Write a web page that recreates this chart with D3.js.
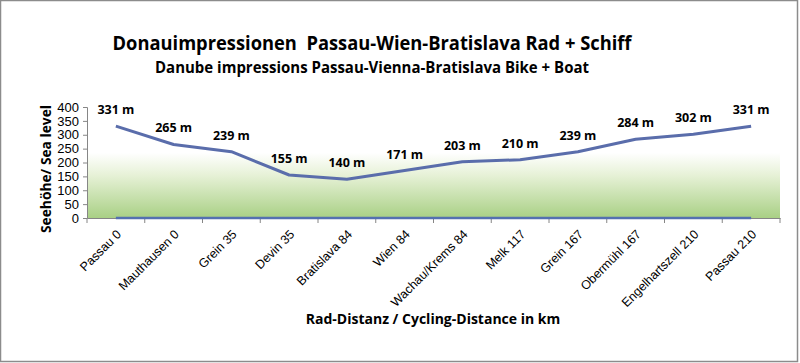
<!DOCTYPE html>
<html>
<head>
<meta charset="utf-8">
<script src="https://cdn.jsdelivr.net/npm/d3@7"></script>
<style>
  html, body { margin: 0; padding: 0; background: #fff; }
  svg { display: block; font-family: "Open Sans", "DejaVu Sans", sans-serif; }
</style>
</head>
<body>
<svg id="chart" width="800" height="363"></svg>
<script>
const stations = ["Passau 0", "Mauthausen 0", "Grein 35", "Devin 35", "Bratislava 84", "Wien 84",
  "Wachau/Krems 84", "Melk 117", "Grein 167", "Obermühl 167", "Engelhartszell 210", "Passau 210"];
const elevation = [331, 265, 239, 155, 140, 171, 203, 210, 239, 284, 302, 331];
const baseline = [0, 0, 0, 0, 0, 0, 0, 0, 0, 0, 0, 0];
const yTicks = [0, 50, 100, 150, 200, 250, 300, 350, 400];
const fillTop = 235; // where the green plot fill fades to white

const svg = d3.select("#chart");
const margin = { left: 87, right: 20, top: 107, bottom: 145 };
const W = 800, H = 363;
const x0 = margin.left, x1 = W - margin.right;
const yB = H - margin.bottom, yT = margin.top;

// frame
svg.append("rect")
  .attr("x", 0.5).attr("y", 0.5).attr("width", W - 3).attr("height", H - 2)
  .attr("fill", "#fff").attr("stroke", "#8c8c8c").attr("stroke-width", 1.5);

const x = d3.scaleBand().domain(stations).range([x0, x1]);
const y = d3.scaleLinear().domain([0, 400]).range([yB, yT]);
const cx = d => x(d) + x.bandwidth() / 2;

const defs = svg.append("defs");
const grad = defs.append("linearGradient")
  .attr("id", "green").attr("x1", 0).attr("y1", 0).attr("x2", 0).attr("y2", 1);
grad.append("stop").attr("offset", "0%").attr("stop-color", "#ffffff");
grad.append("stop").attr("offset", "35%").attr("stop-color", "#e6f1d6");
grad.append("stop").attr("offset", "100%").attr("stop-color", "#a9d085");

svg.append("rect")
  .attr("x", x0).attr("y", y(fillTop))
  .attr("width", x1 - x0).attr("height", y(0) - y(fillTop))
  .attr("fill", "url(#green)");

// axes
const yAxis = svg.append("g")
  .attr("transform", `translate(${x0},0)`)
  .call(d3.axisLeft(y).tickValues(yTicks).tickSize(4).tickPadding(4));
yAxis.select(".domain").attr("stroke", "#868686");
yAxis.selectAll(".tick line").attr("stroke", "#868686");
yAxis.selectAll("text").attr("font-size", 13).attr("fill", "#000");

const xAxis = svg.append("g")
  .attr("transform", `translate(0,${yB})`)
  .call(d3.axisBottom(x).tickSize(0).tickSizeOuter(0).tickPadding(0));
xAxis.select(".domain").attr("stroke", "#868686");
xAxis.selectAll(".tick line").remove();
// tick marks between categories
const bounds = stations.map(s => x(s)).concat([x1]);
svg.append("g").selectAll("line").data(bounds).join("line")
  .attr("x1", d => d).attr("x2", d => d)
  .attr("y1", yB).attr("y2", yB + 5)
  .attr("stroke", "#868686");
xAxis.selectAll("text")
  .attr("font-size", 12.5).attr("fill", "#000")
  .attr("text-anchor", "end")
  .attr("dy", "0.35em")
  .attr("transform", "translate(3,14) rotate(-45)");

// zero series and elevation line
const line = d3.line().x((d, i) => cx(stations[i])).y(d => y(d));
svg.append("path").datum(baseline)
  .attr("d", line).attr("fill", "none")
  .attr("stroke", "#5470b0").attr("stroke-width", 2.5);
svg.append("path").datum(elevation)
  .attr("d", line).attr("fill", "none")
  .attr("stroke", "#5a6dab").attr("stroke-width", 3)
  .attr("stroke-linejoin", "round");

// data labels
svg.append("g").selectAll("text").data(elevation).join("text")
  .attr("x", (d, i) => cx(stations[i]))
  .attr("y", d => y(d) - 12)
  .attr("text-anchor", "middle")
  .attr("font-size", 12.5).attr("font-weight", "bold")
  .text(d => d + " m");

// titles
svg.append("text")
  .attr("x", 372).attr("y", 50).attr("text-anchor", "middle")
  .attr("font-size", 19).attr("font-weight", "bold")
  .attr("textLength", 519).attr("lengthAdjust", "spacingAndGlyphs")
  .attr("xml:space", "preserve")
  .text("Donauimpressionen  Passau-Wien-Bratislava Rad + Schiff");
svg.append("text")
  .attr("x", 372).attr("y", 73).attr("text-anchor", "middle")
  .attr("font-size", 15.5).attr("font-weight", "bold")
  .attr("textLength", 434).attr("lengthAdjust", "spacingAndGlyphs")
  .text("Danube impressions Passau-Vienna-Bratislava Bike + Boat");

svg.append("text")
  .attr("transform", `translate(51,${169}) rotate(-90)`)
  .attr("text-anchor", "middle")
  .attr("font-size", 14.5).attr("font-weight", "bold")
  .attr("textLength", 128).attr("lengthAdjust", "spacingAndGlyphs")
  .text("Seehöhe/ Sea level");

svg.append("text")
  .attr("x", 433).attr("y", 324).attr("text-anchor", "middle")
  .attr("font-size", 14).attr("font-weight", "bold")
  .text("Rad-Distanz / Cycling-Distance in km");
</script>
</body>
</html>
